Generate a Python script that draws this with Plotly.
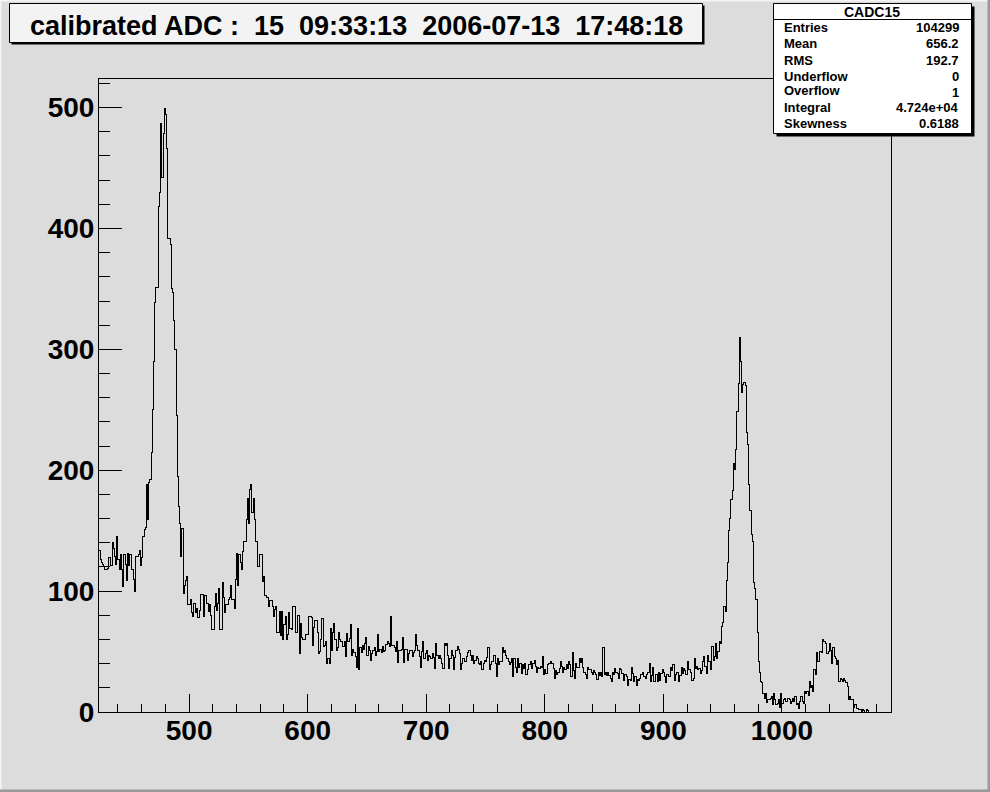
import plotly.graph_objects as go

# ---------------- data ----------------
bin_lo = 424          # lower edge of first bin (calibrated ADC units)
bin_width = 1
x_range = [424, 1092]
y_range = [0, 523.7]
x_tick_vals = [500, 600, 700, 800, 900, 1000]
y_tick_vals = [0, 100, 200, 300, 400, 500]

counts_424_523 = [
    134, 126, 124, 122, 120, 118, 118, 119, 128, 128,
    121, 140, 135, 129, 122, 145, 126, 118, 130, 118,
    104, 130, 122, 109, 131, 121, 130, 118, 118, 110,
    100, 129, 129, 130, 134, 121, 128, 145, 151, 153,
    188, 159, 190, 192, 215, 250, 290, 339, 351, 351,
    418, 430, 487, 442, 479, 499, 494, 466, 392, 392,
    387, 350, 347, 324, 300, 245, 195, 170, 156, 129,
    152, 98, 105, 109, 112, 89, 89, 93, 82, 79,
    90, 82, 86, 78, 78, 84, 97, 97, 79, 96,
    96, 90, 83, 89, 80, 68, 68, 87, 98, 84,
]
counts_524_623 = [
    90, 102, 68, 68, 107, 95, 82, 89, 89, 93,
    95, 105, 93, 93, 86, 110, 131, 105, 130, 124,
    118, 133, 141, 141, 159, 177, 156, 184, 188, 165,
    177, 159, 141, 141, 120, 130, 130, 130, 108, 112,
    96, 95, 95, 87, 92, 92, 87, 79, 85, 87,
    66, 66, 83, 63, 83, 60, 72, 79, 60, 64,
    82, 69, 68, 87, 87, 87, 66, 80, 80, 48,
    73, 62, 60, 60, 64, 64, 64, 79, 79, 78,
    55, 70, 76, 76, 66, 48, 50, 60, 77, 54,
    55, 58, 40, 44, 40, 69, 51, 66, 73, 60,
]
counts_624_723 = [
    51, 53, 66, 60, 58, 54, 54, 58, 46, 65,
    58, 61, 72, 47, 52, 49, 46, 37, 69, 35,
    53, 49, 55, 52, 57, 62, 47, 54, 51, 43,
    48, 51, 53, 47, 50, 64, 50, 52, 49, 54,
    50, 51, 56, 58, 57, 54, 79, 55, 55, 53,
    50, 58, 41, 51, 51, 52, 62, 41, 52, 52,
    43, 48, 51, 51, 46, 49, 51, 64, 55, 51,
    46, 37, 50, 58, 44, 48, 51, 43, 47, 46,
    44, 48, 45, 36, 57, 47, 44, 47, 44, 40,
    36, 57, 55, 57, 47, 36, 44, 51, 47, 35,
]
counts_724_823 = [
    45, 51, 54, 52, 48, 35, 40, 44, 42, 42,
    46, 49, 51, 47, 43, 47, 40, 43, 46, 44,
    40, 39, 42, 35, 40, 43, 42, 45, 53, 35,
    39, 42, 42, 47, 40, 29, 44, 39, 42, 42,
    53, 49, 51, 47, 44, 42, 39, 41, 44, 29,
    44, 37, 33, 44, 37, 40, 32, 39, 36, 40,
    31, 35, 39, 39, 42, 36, 40, 43, 38, 33,
    37, 36, 38, 37, 46, 31, 35, 32, 39, 40,
    40, 42, 40, 36, 28, 34, 31, 33, 36, 42,
    38, 33, 37, 35, 39, 36, 42, 39, 29, 49,
]
counts_824_923 = [
    34, 28, 40, 37, 37, 44, 41, 44, 37, 33,
    31, 28, 37, 35, 35, 33, 31, 34, 33, 31,
    27, 33, 30, 33, 29, 53, 31, 33, 30, 33,
    30, 28, 25, 33, 31, 36, 33, 32, 28, 36,
    35, 32, 26, 31, 31, 29, 22, 27, 26, 37,
    32, 25, 29, 22, 27, 26, 28, 31, 33, 29,
    29, 28, 31, 33, 40, 25, 30, 37, 25, 31,
    31, 25, 33, 26, 32, 35, 33, 29, 24, 31,
    29, 29, 37, 34, 39, 26, 31, 33, 33, 25,
    30, 37, 32, 36, 34, 31, 42, 35, 35, 33,
]
counts_924_1023 = [
    26, 28, 44, 36, 38, 35, 36, 32, 34, 42,
    46, 38, 32, 47, 42, 42, 35, 54, 43, 46,
    57, 44, 50, 58, 57, 71, 74, 87, 83, 109,
    124, 150, 160, 176, 183, 206, 201, 217, 249, 272,
    310, 290, 264, 271, 273, 270, 231, 221, 188, 167,
    147, 141, 107, 102, 93, 66, 42, 33, 25, 24,
    15, 11, 15, 8, 10, 10, 11, 13, 6, 15,
    10, 6, 7, 10, 4, 15, 7, 10, 11, 9,
    9, 11, 10, 7, 9, 11, 9, 13, 6, 7,
    3, 9, 13, 9, 7, 17, 15, 17, 14, 25,
]
counts_1024_1091 = [
    20, 22, 17, 35, 31, 49, 42, 42, 50, 49,
    60, 58, 58, 57, 48, 50, 57, 51, 40, 53,
    46, 44, 39, 43, 25, 28, 27, 25, 28, 26,
    24, 21, 10, 13, 10, 10, 4, 6, 6, 3,
    3, 2, 2, 0, 2, 1, 0, 2, 1, 0,
    0, 0, 0, 0, 0, 0, 0, 0, 0, 0,
    0, 0, 0, 0, 0, 0, 0, 0,
]

title_text = "calibrated ADC :  15  09:33:13  2006-07-13  17:48:18"
stats_name = "CADC15"
stats_labels = ["Entries", "Mean", "RMS", "Underflow", "Overflow", "Integral", "Skewness"]
stats_values = ["104299", "656.2", "192.7", "0", "1", "4.724e+04", "0.6188"]

counts = (counts_424_523 + counts_524_623 + counts_624_723 + counts_724_823
          + counts_824_923 + counts_924_1023 + counts_1024_1091)
if len(counts) != 668:
    raise SystemExit("bad length %d" % len(counts))

# ---------------- figure ----------------
W, H = 990, 792
L, R, T, B = 99, 891, 79, 712
FONT = "Liberation Sans"
BG = "#dcdcdc"


def xp(px):
    return (px - L) / (R - L)


def yp(py):
    return (B - py) / (B - T)


edges = [bin_lo + i * bin_width for i in range(len(counts) + 1)]
step_y = counts + [counts[-1]]

fig = go.Figure()
fig.add_trace(go.Scatter(
    x=edges, y=step_y, mode="lines",
    line=dict(color="black", width=1, shape="hv"),
    hoverinfo="skip", showlegend=False, cliponaxis=True,
))

axis_common = dict(
    showline=True, linecolor="black", linewidth=1, mirror=True,
    showgrid=False, zeroline=False, ticks="inside", tickcolor="black",
    tickwidth=1,
    tickfont=dict(family=FONT, size=28, color="black", weight="bold"),
)

fig.update_xaxes(
    range=x_range, tickvals=x_tick_vals, ticklen=18,
    minor=dict(ticks="inside", ticklen=8, dtick=20, tick0=0,
               tickcolor="black", tickwidth=1),
    ticklabelstandoff=-7,
    **axis_common,
)
fig.update_yaxes(
    range=y_range, tickvals=y_tick_vals, ticklen=23,
    minor=dict(ticks="inside", ticklen=11, dtick=20, tick0=0,
               tickcolor="black", tickwidth=1),
    ticklabelstandoff=-2,
    **axis_common,
)

shapes = []
# canvas bevel border
shapes.append(dict(type="rect", xref="paper", yref="paper",
                   x0=xp(0), x1=xp(990), y0=yp(0), y1=yp(1.5),
                   fillcolor="#f4f4f4", line=dict(width=0), layer="above"))
shapes.append(dict(type="rect", xref="paper", yref="paper",
                   x0=xp(0), x1=xp(1.5), y0=yp(0), y1=yp(792),
                   fillcolor="#f4f4f4", line=dict(width=0), layer="above"))
shapes.append(dict(type="rect", xref="paper", yref="paper",
                   x0=xp(987.5), x1=xp(990), y0=yp(0), y1=yp(792),
                   fillcolor="#9a9a9a", line=dict(width=0), layer="above"))
shapes.append(dict(type="rect", xref="paper", yref="paper",
                   x0=xp(0), x1=xp(990), y0=yp(789.5), y1=yp(792),
                   fillcolor="#9a9a9a", line=dict(width=0), layer="above"))

# title pave: shadow + box
shapes.append(dict(type="rect", xref="paper", yref="paper",
                   x0=xp(11.5), x1=xp(704.5), y0=yp(5.5), y1=yp(44.5),
                   fillcolor="black", line=dict(width=0), layer="above"))
shapes.append(dict(type="rect", xref="paper", yref="paper",
                   x0=xp(9.5), x1=xp(702.5), y0=yp(3.5), y1=yp(42.5),
                   fillcolor="#f3f3f3", line=dict(color="black", width=1),
                   layer="above"))

# stats pave: shadow + box + separator
shapes.append(dict(type="rect", xref="paper", yref="paper",
                   x0=xp(776.5), x1=xp(974.5), y0=yp(6.5), y1=yp(136.5),
                   fillcolor="black", line=dict(width=0), layer="above"))
shapes.append(dict(type="rect", xref="paper", yref="paper",
                   x0=xp(773.5), x1=xp(971.5), y0=yp(3.5), y1=yp(133.5),
                   fillcolor="white", line=dict(color="black", width=1),
                   layer="above"))
shapes.append(dict(type="line", xref="paper", yref="paper",
                   x0=xp(773.5), x1=xp(971.5), y0=yp(19.5), y1=yp(19.5),
                   line=dict(color="black", width=1), layer="above"))

annotations = []
annotations.append(dict(
    text=title_text, xref="paper", yref="paper", x=xp(356), y=yp(26),
    xanchor="center", yanchor="middle", showarrow=False,
    font=dict(family=FONT, size=27, color="black", weight="bold"),
))
annotations.append(dict(
    text=stats_name, xref="paper", yref="paper", x=xp(872), y=yp(12),
    xanchor="center", yanchor="middle", showarrow=False,
    font=dict(family=FONT, size=14, color="black", weight="bold"),
))
label_y = [28, 44, 60, 76, 90, 107.5, 123]
value_y = [28, 44, 60, 76, 93, 107.5, 123]
for lab, val, ly, vy in zip(stats_labels, stats_values, label_y, value_y):
    annotations.append(dict(
        text=lab, xref="paper", yref="paper", x=xp(782), y=yp(ly),
        xanchor="left", yanchor="middle", showarrow=False,
        font=dict(family=FONT, size=13, color="black", weight="bold"),
    ))
    annotations.append(dict(
        text=val, xref="paper", yref="paper", x=xp(961), y=yp(vy),
        xanchor="right", yanchor="middle", showarrow=False,
        font=dict(family=FONT, size=13, color="black", weight="bold"),
    ))

fig.update_layout(
    width=W, height=H,
    margin=dict(l=L, r=W - R, t=T, b=H - B, pad=0),
    paper_bgcolor=BG, plot_bgcolor=BG,
    showlegend=False, shapes=shapes, annotations=annotations,
)

fig.write_html(
    "out.html",
    config={"displayModeBar": False, "staticPlot": True},
    post_script=(
        "document.body.style.margin='0';document.body.style.padding='0';"
        "document.querySelectorAll('.scatterlayer path.js-line').forEach("
        "function(p){p.style.shapeRendering='crispEdges';});"
    ),
)
